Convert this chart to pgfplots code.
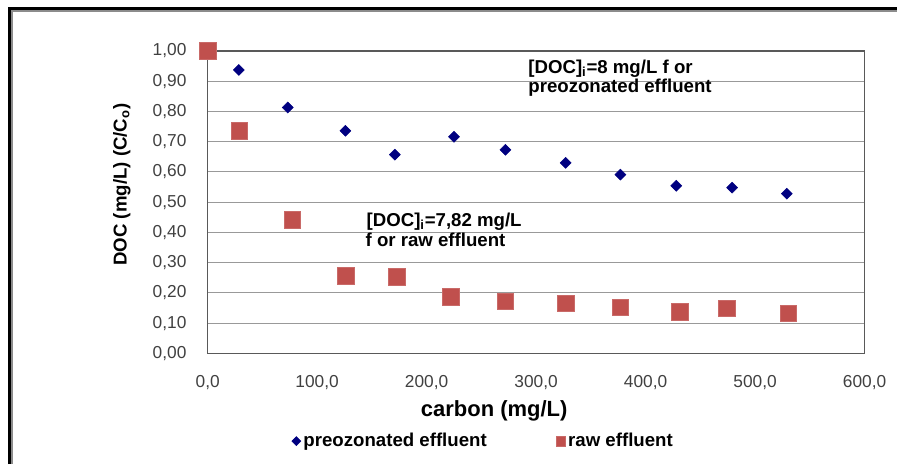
\documentclass[border=0pt]{standalone}
\usepackage{pgfplots}
\pgfplotsset{compat=1.18}
\usepackage{fontspec}
\setmainfont{Liberation Sans}
\definecolor{rawred}{HTML}{C0504D}
\definecolor{ozblue}{HTML}{000080}
\pgfplotsset{
  ozleg/.style={legend image code/.code={\draw[mark repeat=2,mark phase=2,##1, mark size=2.4pt] plot coordinates {(0pt,0pt)(4pt,0pt)(8pt,0pt)};}},
  rawleg/.style={legend image code/.code={\draw[mark repeat=2,mark phase=2,##1, mark size=3.6pt] plot coordinates {(0pt,0pt)(4pt,0pt)(8pt,0pt)};}},
}
\begin{document}
\begin{tikzpicture}
\begin{scope}[x=0.75pt,y=-0.75pt,shift={(0pt,348.75pt)}]
\useasboundingbox (0,0) rectangle (898,465);
\end{scope}
\begin{axis}[
  at={(156pt,83.25pt)}, anchor=south west,
  scale only axis, width=493.5pt, height=227.25pt,
  xmin=0, xmax=600, ymin=0, ymax=1,
  clip=false,
  xtick={0,100,200,300,400,500,600},
  ytick={0,0.1,0.2,0.3,0.4,0.5,0.6,0.7,0.8,0.9,1},
  major tick length=0pt,
  ymajorgrids, major grid style={black!40, line width=0.8pt},
  axis line style={black!65, line width=1.1pt},
  xticklabel style={font=\fontsize{13}{15}\selectfont, text=black!75, anchor=center, yshift=-21.75pt,
    /pgf/number format/.cd, fixed, fixed zerofill, precision=1, use comma, 1000 sep={}, assume math mode=true},
  yticklabel style={font=\fontsize{13}{15}\selectfont, text=black!75, anchor=east, inner sep=0pt, xshift=-15.75pt,
    /pgf/number format/.cd, fixed, fixed zerofill, precision=2, use comma, 1000 sep={}, assume math mode=true},
  legend style={at={(0.1216,-0.29)}, anchor=west, draw=none, fill=none,
    font=\bfseries\fontsize{14}{16}\selectfont, legend columns=2,
    /tikz/every even column/.append style={column sep=50pt}},
]
\addplot[only marks, mark=square*, mark size=2.9pt, mark options={rotate=45, fill=ozblue, draw=ozblue}, ozleg]
  coordinates {(28.5,0.937)(73.2,0.813)(125.8,0.736)(171,0.657)(225,0.716)(272,0.673)(327,0.630)(377,0.591)(428,0.554)(479,0.548)(529,0.528)};
\addlegendentry{preozonated effluent}
\addplot[only marks, mark=square*, mark size=6.3pt, mark options={fill=rawred, draw=rawred!85!white, line width=0.6pt}, rawleg]
  coordinates {(0,1.00)(29,0.736)(77.5,0.442)(126,0.257)(173,0.254)(222,0.188)(272,0.172)(327,0.165)(377,0.152)(431,0.137)(474,0.149)(530.5,0.132)};
\addlegendentry{raw effluent}
\end{axis}
\begin{scope}[x=0.75pt,y=-0.75pt,shift={(0pt,348.75pt)}]
\draw[black, line width=2.25pt] (9.5,465) -- (9.5,8.5) -- (898,8.5);
\draw[black!45, line width=1pt] (12,465) -- (12,11) -- (898,11);
\node[font=\bfseries\fontsize{16.5}{19}\selectfont] at (495,412) {carbon (mg/L)};
\node[font=\bfseries\fontsize{14}{16}\selectfont, rotate=90] at (122,185) {DOC (mg/L) (C/C\textsubscript{o})};
\node[font=\bfseries\fontsize{14}{16}\selectfont, anchor=west, inner sep=0pt] at (529,69) {[DOC]\textsubscript{i}=8 mg/L f or};
\node[font=\bfseries\fontsize{14}{16}\selectfont, anchor=west, inner sep=0pt] at (529,88) {preozonated effluent};
\node[font=\bfseries\fontsize{14}{16}\selectfont, anchor=west, inner sep=0pt] at (367,222) {[DOC]\textsubscript{i}=7,82 mg/L};
\node[font=\bfseries\fontsize{14}{16}\selectfont, anchor=west, inner sep=0pt] at (366,240) {f or raw effluent};
\end{scope}
\end{tikzpicture}
\end{document}
